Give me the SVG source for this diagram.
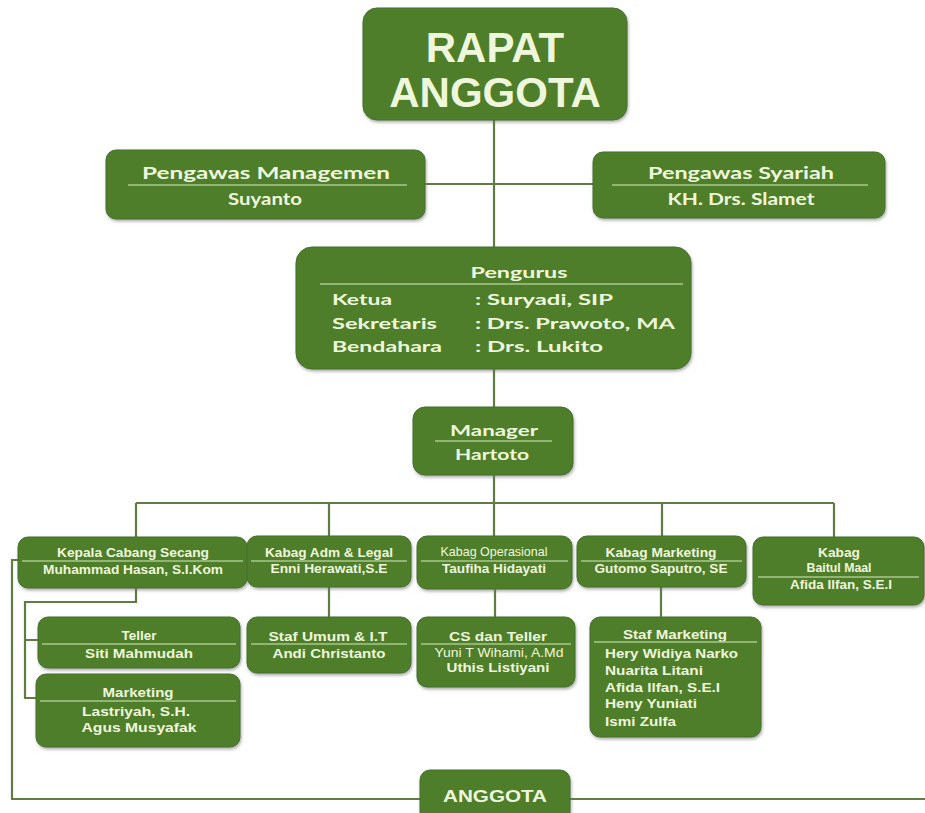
<svg xmlns="http://www.w3.org/2000/svg" width="925" height="813" viewBox="0 0 925 813">
<defs>
<filter id="sh" x="-10%" y="-10%" width="120%" height="130%">
<feDropShadow dx="1" dy="2" stdDeviation="1.5" flood-color="#6d6d6d" flood-opacity="0.55"/>
</filter>
<style>
.box{fill:#4f7e2c;stroke:#44702a;stroke-width:1;filter:url(#sh)}
.con{fill:none;stroke:#5f7d43;stroke-width:2.2}
.ul{stroke:#a9c98d;stroke-width:1.5}
.t{fill:#eef6dc;font-family:"Liberation Sans",Arial,sans-serif;font-weight:bold}
.c{fill:#eef6dc;font-family:Lato,"Open Sans",sans-serif;font-weight:bold}
.s{font-size:13px;text-anchor:middle}
.n{font-weight:normal}
.l{text-anchor:start}
</style>
</defs>
<rect width="925" height="813" fill="#ffffff"/>
<g id="connectors">
<path class="con" d="M494 120V407"/>
<path class="con" d="M425 184H593"/>
<path class="con" d="M494 475V537"/>
<path class="con" d="M136 503H834M136 503V537M329 503V537M662 503V537M834 503V537"/>
<path class="con" d="M136 588V602H25V698H38M25 640H38"/>
<path class="con" d="M329 587V617M495 589V617M661 587V617"/>
<path class="con" d="M18 560H12V799H925"/>
</g>
<g id="rapat-anggota">
<rect class="box" x="363" y="8" width="264" height="112" rx="14"/>
<text class="t" x="495" y="62" font-size="42" text-anchor="middle">RAPAT</text>
<text class="t" x="495" y="107" font-size="42" text-anchor="middle">ANGGOTA</text>
</g>
<g id="pengawas-managemen">
<rect class="box" x="106" y="150" width="319" height="69" rx="10"/>
<text class="c" x="266" y="179" font-size="17" text-anchor="middle" textLength="248" lengthAdjust="spacingAndGlyphs">Pengawas  Managemen</text>
<line class="ul" x1="128" y1="185" x2="407" y2="185"/>
<text class="c" x="265" y="205" font-size="17" text-anchor="middle" textLength="74" lengthAdjust="spacingAndGlyphs">Suyanto</text>
</g>
<g id="pengawas-syariah">
<rect class="box" x="593" y="152" width="292" height="66" rx="10"/>
<text class="c" x="741" y="179" font-size="17" text-anchor="middle" textLength="186" lengthAdjust="spacingAndGlyphs">Pengawas Syariah</text>
<line class="ul" x1="612" y1="185" x2="868" y2="185"/>
<text class="c" x="741" y="205" font-size="17" text-anchor="middle" textLength="147" lengthAdjust="spacingAndGlyphs">KH. Drs. Slamet</text>
</g>
<g id="pengurus">
<rect class="box" x="296" y="247" width="395" height="122" rx="16"/>
<text class="c" x="519" y="278" font-size="16" text-anchor="middle" textLength="97" lengthAdjust="spacingAndGlyphs">Pengurus</text>
<line class="ul" x1="320" y1="284" x2="683" y2="284"/>
<text class="c l" x="332" y="305" font-size="16" textLength="60" lengthAdjust="spacingAndGlyphs">Ketua</text>
<text class="c l" x="475" y="305" font-size="16" textLength="138" lengthAdjust="spacingAndGlyphs">: Suryadi, SIP</text>
<text class="c l" x="332" y="329" font-size="16" textLength="105" lengthAdjust="spacingAndGlyphs">Sekretaris</text>
<text class="c l" x="475" y="329" font-size="16" textLength="200" lengthAdjust="spacingAndGlyphs">: Drs. Prawoto, MA</text>
<text class="c l" x="332" y="352" font-size="16" textLength="110" lengthAdjust="spacingAndGlyphs">Bendahara</text>
<text class="c l" x="475" y="352" font-size="16" textLength="128" lengthAdjust="spacingAndGlyphs">: Drs. Lukito</text>
</g>
<g id="manager">
<rect class="box" x="413" y="407" width="160" height="68" rx="12"/>
<text class="c" x="494" y="436" font-size="16" text-anchor="middle" textLength="88" lengthAdjust="spacingAndGlyphs">Manager</text>
<line class="ul" x1="435" y1="441" x2="552" y2="441"/>
<text class="c" x="492" y="460" font-size="16" text-anchor="middle" textLength="74" lengthAdjust="spacingAndGlyphs">Hartoto</text>
</g>
<g id="kepala-cabang">
<rect class="box" x="18" y="537" width="229" height="51" rx="10"/>
<text class="t s" x="133" y="557" textLength="152" lengthAdjust="spacingAndGlyphs">Kepala Cabang Secang</text>
<line class="ul" x1="22" y1="561" x2="243" y2="561"/>
<text class="t s" x="133" y="574" textLength="180" lengthAdjust="spacingAndGlyphs">Muhammad Hasan, S.I.Kom</text>
</g>
<g id="kabag-adm">
<rect class="box" x="247" y="536" width="164" height="51" rx="10"/>
<text class="t s" x="329" y="557" textLength="128" lengthAdjust="spacingAndGlyphs">Kabag Adm &amp; Legal</text>
<line class="ul" x1="251" y1="561" x2="407" y2="561"/>
<text class="t s" x="329" y="573" textLength="117" lengthAdjust="spacingAndGlyphs">Enni Herawati,S.E</text>
</g>
<g id="kabag-ops">
<rect class="box" x="417" y="536" width="155" height="53" rx="10"/>
<text class="t s n" x="494" y="556" font-size="11" textLength="107" lengthAdjust="spacingAndGlyphs">Kabag Operasional</text>
<line class="ul" x1="421" y1="561" x2="568" y2="561"/>
<text class="t s" x="494" y="573" textLength="104" lengthAdjust="spacingAndGlyphs">Taufiha Hidayati</text>
</g>
<g id="kabag-marketing">
<rect class="box" x="577" y="536" width="169" height="51" rx="10"/>
<text class="t s" x="661" y="557" textLength="111" lengthAdjust="spacingAndGlyphs">Kabag Marketing</text>
<line class="ul" x1="581" y1="561" x2="742" y2="561"/>
<text class="t s" x="661" y="573" textLength="133" lengthAdjust="spacingAndGlyphs">Gutomo Saputro, SE</text>
</g>
<g id="kabag-baitul-maal">
<rect class="box" x="753" y="537" width="171" height="68" rx="10"/>
<text class="t s" x="839" y="557" textLength="42" lengthAdjust="spacingAndGlyphs">Kabag</text>
<text class="t s" x="839" y="572" textLength="65" lengthAdjust="spacingAndGlyphs">Baitul Maal</text>
<line class="ul" x1="758" y1="577" x2="919" y2="577"/>
<text class="t s" x="841" y="589" textLength="102" lengthAdjust="spacingAndGlyphs">Afida Ilfan, S.E.I</text>
</g>
<g id="teller">
<rect class="box" x="38" y="617" width="202" height="51" rx="10"/>
<text class="t s" x="139" y="640" textLength="35" lengthAdjust="spacingAndGlyphs">Teller</text>
<line class="ul" x1="42" y1="644" x2="236" y2="644"/>
<text class="t s" x="139" y="658" textLength="108" lengthAdjust="spacingAndGlyphs">Siti Mahmudah</text>
</g>
<g id="marketing">
<rect class="box" x="36" y="674" width="204" height="73" rx="10"/>
<text class="t s" x="138" y="697" textLength="71" lengthAdjust="spacingAndGlyphs">Marketing</text>
<line class="ul" x1="40" y1="701" x2="236" y2="701"/>
<text class="t s" x="136" y="716" textLength="108" lengthAdjust="spacingAndGlyphs">Lastriyah,  S.H.</text>
<text class="t s" x="139" y="732" textLength="115" lengthAdjust="spacingAndGlyphs">Agus Musyafak</text>
</g>
<g id="staf-umum">
<rect class="box" x="247" y="617" width="164" height="56" rx="10"/>
<text class="t s" x="328" y="641" textLength="119" lengthAdjust="spacingAndGlyphs">Staf Umum &amp; I.T</text>
<line class="ul" x1="251" y1="644" x2="407" y2="644"/>
<text class="t s" x="329" y="658" textLength="113" lengthAdjust="spacingAndGlyphs">Andi Christanto</text>
</g>
<g id="cs-teller">
<rect class="box" x="417" y="617" width="158" height="70" rx="10"/>
<text class="t s" x="498" y="641" textLength="98" lengthAdjust="spacingAndGlyphs">CS dan Teller</text>
<line class="ul" x1="421" y1="644" x2="571" y2="644"/>
<text class="t s n" x="499" y="657" font-size="12" textLength="129" lengthAdjust="spacingAndGlyphs">Yuni T Wihami, A.Md</text>
<text class="t s" x="498" y="672" textLength="103" lengthAdjust="spacingAndGlyphs">Uthis Listiyani</text>
</g>
<g id="staf-marketing">
<rect class="box" x="590" y="617" width="171" height="120" rx="10"/>
<text class="t s" x="675" y="639" textLength="104" lengthAdjust="spacingAndGlyphs">Staf Marketing</text>
<line class="ul" x1="594" y1="642" x2="757" y2="642"/>
<text class="t l" x="605" y="658" font-size="13" textLength="133" lengthAdjust="spacingAndGlyphs">Hery Widiya Narko</text>
<text class="t l" x="605" y="675" font-size="13" textLength="98" lengthAdjust="spacingAndGlyphs">Nuarita Litani</text>
<text class="t l" x="605" y="692" font-size="13" textLength="115" lengthAdjust="spacingAndGlyphs">Afida Ilfan, S.E.I</text>
<text class="t l" x="605" y="708" font-size="13" textLength="92" lengthAdjust="spacingAndGlyphs">Heny Yuniati</text>
<text class="t l" x="605" y="726" font-size="13" textLength="71" lengthAdjust="spacingAndGlyphs">Ismi Zulfa</text>
</g>
<g id="anggota">
<rect class="box" x="420" y="770" width="150" height="52" rx="10"/>
<text class="t" x="495" y="802" font-size="17" text-anchor="middle" textLength="104" lengthAdjust="spacingAndGlyphs">ANGGOTA</text>
</g>
</svg>
